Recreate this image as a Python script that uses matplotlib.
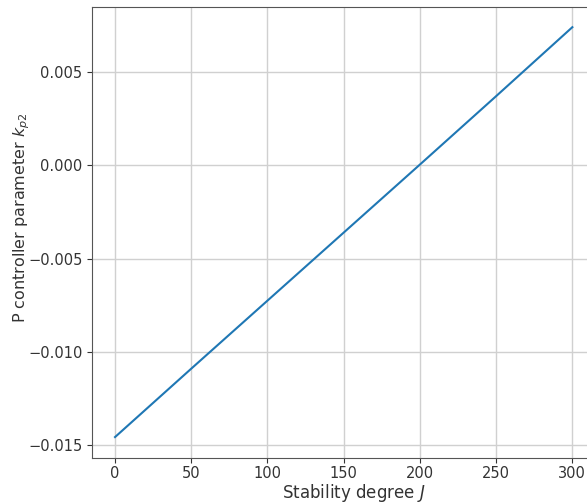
import matplotlib
matplotlib.use("Agg")
import matplotlib.pyplot as plt

# values
stability_degree = [0, 50, 100, 150, 200, 250, 300]
kp2 = [-0.01457, -0.01090, -0.00725, -0.00360, 0.00005, 0.00372, 0.00742]

x_ticks = [0, 50, 100, 150, 200, 250, 300]
y_ticks = [-0.015, -0.010, -0.005, 0.000, 0.005]

plt.rcParams.update({"font.family": "DejaVu Sans", "mathtext.fontset": "dejavusans"})

fig = plt.figure(figsize=(5.87, 5.04), dpi=100)
# original figure was cropped on the right, so the axes run past the edge
ax = fig.add_axes([0.157, 0.091, 0.857, 0.895])

ax.plot(stability_degree, kp2, color="#1f77b4", linewidth=1.5)

ax.set_xticks(x_ticks)
ax.set_yticks(y_ticks)
ax.set_xlim(-15, 315)
ax.set_ylim(-0.0157, 0.0085)
ax.tick_params(labelsize=10.5, colors="#333333")
ax.tick_params(axis="x", pad=2)
ax.grid(True, color="#d0d0d0", linewidth=1.0)

for spine in ax.spines.values():
    spine.set_color("#555555")

ax.set_xlabel("Stability degree $J$", fontsize=12, color="#333333")
ax.set_ylabel("P controller parameter $k_{p2}$", fontsize=11.5, color="#333333")
ax.xaxis.set_label_coords(0.521, -0.052)
ax.yaxis.set_label_coords(-0.119, 0.532)

fig.savefig("out.png", dpi=100)
